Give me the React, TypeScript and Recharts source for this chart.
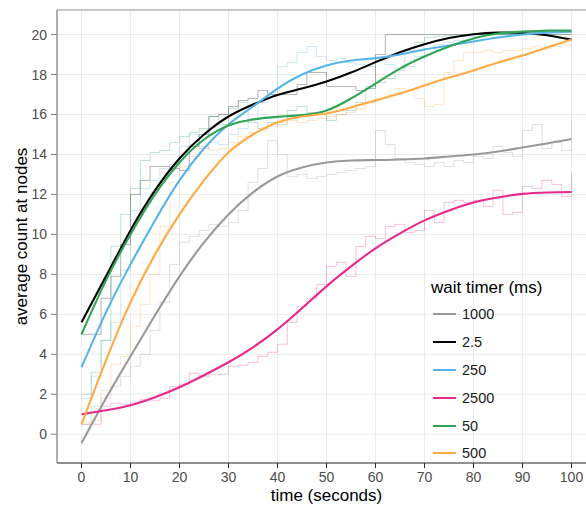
import {
  CartesianGrid,
  Legend,
  Line,
  LineChart,
  ReferenceLine,
  XAxis,
  YAxis,
} from "recharts";

const FONT = '"Liberation Sans", Arial, Helvetica, sans-serif';

// wait timer groups, in legend order
const SERIES = ["1000", "2.5", "250", "2500", "50", "500"];
const COLORS = ["#999999", "#000000", "#56B4E9", "#E7298A", "#31A354", "#FFAA44"];

const X_TICKS = [0, 10, 20, 30, 40, 50, 60, 70, 80, 90, 100];
const Y_TICKS = [0, 2, 4, 6, 8, 10, 12, 14, 16, 18, 20];
const X_DOMAIN: [number, number] = [-5, 105];
const Y_DOMAIN: [number, number] = [-1.44, 21.23];

// smoothed fits, sampled every 5 s
const SMOOTH_TIME = [0, 5, 10, 15, 20, 25, 30, 35, 40, 45, 50, 55, 60, 65, 70, 75, 80, 85, 90, 95, 100];
const SMOOTH_1000 = [-0.45, 1.8, 3.9, 5.95, 7.9, 9.6, 11.0, 12.1, 12.9, 13.35, 13.6, 13.7, 13.72, 13.75, 13.8, 13.9, 14.0, 14.15, 14.35, 14.55, 14.77];
const SMOOTH_2_5 = [5.6, 7.9, 10.2, 12.2, 13.8, 15.0, 15.9, 16.5, 16.98, 17.3, 17.65, 18.1, 18.62, 19.12, 19.52, 19.83, 20.02, 20.1, 20.08, 19.97, 19.75];
const SMOOTH_250 = [3.35, 6.1, 8.5, 10.7, 12.7, 14.3, 15.5, 16.4, 17.3, 18.0, 18.45, 18.7, 18.82, 19.0, 19.25, 19.45, 19.65, 19.85, 20.0, 20.1, 20.15];
const SMOOTH_2500 = [1.0, 1.2, 1.45, 1.85, 2.35, 2.95, 3.6, 4.35, 5.25, 6.3, 7.4, 8.4, 9.3, 10.05, 10.7, 11.2, 11.6, 11.85, 12.03, 12.1, 12.12];
const SMOOTH_50 = [5.0, 7.7, 10.0, 12.0, 13.6, 14.75, 15.45, 15.75, 15.88, 15.97, 16.2, 16.8, 17.55, 18.3, 18.9, 19.4, 19.8, 20.05, 20.15, 20.2, 20.2];
const SMOOTH_500 = [0.5, 3.7, 6.6, 9.0, 11.0, 12.7, 14.1, 15.0, 15.6, 15.9, 16.05, 16.35, 16.7, 17.05, 17.45, 17.85, 18.2, 18.6, 18.95, 19.35, 19.75];

// raw averages, sampled every 2 s
const RAW_TIME = [0, 2, 4, 6, 8, 10, 12, 14, 16, 18, 20, 22, 24, 26, 28, 30, 32, 34, 36, 38, 40, 42, 44, 46, 48, 50, 52, 54, 56, 58, 60, 62, 64, 66, 68, 70, 72, 74, 76, 78, 80, 82, 84, 86, 88, 90, 92, 94, 96, 98, 100];
const RAW_1000 = [0.5, 1.4, 1.8, 2.4, 2.9, 3.4, 4.0, 5.2, 6.6, 8.5, 9.6, 9.9, 10.2, 10.5, 10.4, 10.6, 11.2, 12.6, 13.3, 14.7, 14.0, 12.9, 13.0, 12.8, 12.9, 13.0, 13.1, 13.2, 13.3, 13.4, 15.2, 14.5, 13.8, 13.6, 13.5, 13.4, 13.6, 13.4, 13.7, 13.6, 13.9, 13.8, 14.4, 14.1, 13.9, 15.2, 15.5, 14.3, 14.6, 14.2, 15.7];
const RAW_2_5 = [5.0, 5.0, 6.8, 7.9, 9.5, 12.0, 12.7, 13.4, 13.4, 13.3, 13.2, 14.4, 15.0, 15.9, 16.0, 16.4, 16.7, 16.8, 17.2, 17.0, 17.0, 17.0, 17.5, 18.1, 18.1, 17.4, 17.4, 17.4, 17.2, 17.3, 19.0, 20.0, 20.0, 20.0, 20.0, 20.0, 20.0, 20.0, 20.0, 20.0, 20.0, 20.0, 20.0, 20.0, 20.0, 20.0, 20.0, 20.0, 20.0, 20.0, 20.0];
const RAW_250 = [1.8, 2.9, 4.7, 5.6, 8.2, 11.2, 12.3, 12.7, 13.3, 13.5, 14.4, 15.0, 14.3, 14.6, 14.5, 15.0, 15.3, 15.8, 16.6, 17.0, 18.4, 18.6, 19.1, 19.4, 18.9, 18.7, 18.8, 18.6, 18.5, 18.4, 18.7, 18.5, 18.3, 18.4, 18.9, 19.3, 19.5, 19.6, 19.7, 19.9, 19.9, 20.0, 20.0, 20.0, 20.05, 20.05, 20.1, 20.1, 20.1, 20.1, 20.1];
const RAW_2500 = [0.5, 0.5, 1.4, 1.55, 1.5, 1.6, 1.75, 1.7, 1.8, 2.4, 2.5, 3.05, 2.9, 3.0, 3.0, 3.4, 3.45, 3.6, 3.9, 4.1, 4.5, 5.6, 6.4, 6.8, 7.5, 8.4, 8.6, 7.9, 9.4, 9.9, 9.8, 10.4, 10.5, 10.1, 10.2, 11.2, 10.6, 11.6, 11.7, 11.6, 11.7, 11.4, 12.2, 11.0, 11.1, 12.4, 12.3, 12.7, 12.5, 11.9, 13.1];
const RAW_50 = [2.0, 3.1, 4.7, 9.4, 11.0, 12.3, 13.7, 14.1, 14.2, 14.6, 14.9, 15.1, 15.3, 15.9, 15.5, 16.3, 16.6, 15.6, 15.3, 15.6, 15.5, 16.2, 16.4, 16.1, 16.0, 15.7, 16.0, 16.2, 16.6, 17.4, 17.6, 17.8, 18.2, 19.2, 19.6, 19.85, 19.9, 19.95, 20.0, 20.0, 20.0, 20.0, 20.0, 20.0, 20.0, 20.0, 20.0, 20.0, 20.0, 20.0, 20.0];
const RAW_500 = [0.6, 0.7, 2.2, 3.5, 3.9, 5.4, 6.5, 8.0, 10.4, 12.6, 13.4, 13.9, 14.4, 14.2, 14.3, 14.6, 14.9, 15.1, 15.2, 15.4, 15.6, 15.7, 15.6, 15.7, 15.8, 15.9, 16.0, 16.1, 16.3, 16.6, 16.8, 17.0, 17.3, 17.2, 16.8, 16.4, 16.5, 18.1, 18.7, 19.1, 19.1, 19.2, 19.1, 19.2, 19.2, 19.3, 19.4, 19.3, 19.4, 19.5, 19.2];

const SMOOTH = [SMOOTH_1000, SMOOTH_2_5, SMOOTH_250, SMOOTH_2500, SMOOTH_50, SMOOTH_500];
const RAW = [RAW_1000, RAW_2_5, RAW_250, RAW_2500, RAW_50, RAW_500];

const toPoints = (times: number[], values: number[]) =>
  times.map((t, i) => ({ t, v: values[i] }));

function WaitTimerLegend() {
  return (
    <div style={{ fontFamily: FONT, color: "#1a1a1a" }}>
      <div
        style={{
          fontSize: 17,
          lineHeight: "18px",
          height: 18,
          marginBottom: 3.5,
          color: "#000",
          whiteSpace: "nowrap",
        }}
      >
        wait timer (ms)
      </div>
      {SERIES.map((name, i) => (
        <div
          key={name}
          style={{ display: "flex", alignItems: "center", height: 27.8 }}
        >
          <span
            style={{
              display: "inline-block",
              width: 23,
              height: 2,
              marginLeft: 2,
              marginRight: 6,
              background: COLORS[i],
            }}
          />
          <span style={{ fontSize: 14.5, lineHeight: "16px" }}>{name}</span>
        </div>
      ))}
    </div>
  );
}

export default function App() {
  return (
    <div
      style={{
        position: "absolute",
        left: 0,
        top: 0,
        width: 586,
        height: 506,
        overflow: "hidden",
        background: "#fff",
      }}
    >
      <LineChart width={600} height={506} margin={{ top: 10, right: 4, bottom: 0, left: 0 }}>
        <CartesianGrid stroke="#ebebeb" strokeWidth={1} />
        <XAxis
          dataKey="t"
          type="number"
          domain={X_DOMAIN}
          ticks={X_TICKS}
          allowDataOverflow
          height={43}
          axisLine={{ stroke: "#2b2b2b", strokeWidth: 1.2 }}
          tickLine={{ stroke: "#2b2b2b" }}
          tickSize={5}
          tickMargin={4}
          tick={{ fill: "#4d4d4d", fontSize: 14, fontFamily: FONT }}
          label={{
            value: "time (seconds)",
            position: "insideBottom",
            offset: 5,
            fill: "#000",
            fontSize: 17,
            fontFamily: FONT,
          }}
        />
        <YAxis
          type="number"
          domain={Y_DOMAIN}
          ticks={Y_TICKS}
          allowDataOverflow
          width={57}
          axisLine={{ stroke: "#808080", strokeWidth: 1.2 }}
          tickLine={{ stroke: "#808080" }}
          tickSize={6}
          tickMargin={4}
          tick={{ fill: "#4d4d4d", fontSize: 14, fontFamily: FONT }}
          label={{
            value: "average count at nodes",
            angle: -90,
            position: "insideLeft",
            offset: 21,
            fill: "#000",
            fontSize: 17,
            fontFamily: FONT,
            style: { textAnchor: "middle" },
          }}
        />
        <ReferenceLine y={Y_DOMAIN[1]} stroke="#9a9a9a" strokeWidth={1.2} />
        {RAW.map((values, i) => (
          <Line
            key={`raw-${SERIES[i]}`}
            data={toPoints(RAW_TIME, values)}
            dataKey="v"
            type="stepAfter"
            stroke={COLORS[i]}
            strokeOpacity={0.42}
            strokeWidth={0.7}
            dot={false}
            activeDot={false}
            legendType="none"
            isAnimationActive={false}
          />
        ))}
        {SMOOTH.map((values, i) => (
          <Line
            key={`fit-${SERIES[i]}`}
            name={SERIES[i]}
            data={toPoints(SMOOTH_TIME, values)}
            dataKey="v"
            type="natural"
            stroke={COLORS[i]}
            strokeWidth={2.1}
            dot={false}
            activeDot={false}
            isAnimationActive={false}
          />
        ))}
        <Legend
          layout="vertical"
          align="center"
          verticalAlign="middle"
          content={<WaitTimerLegend />}
          wrapperStyle={{ left: 431, top: 279, width: 150 }}
        />
      </LineChart>
    </div>
  );
}
